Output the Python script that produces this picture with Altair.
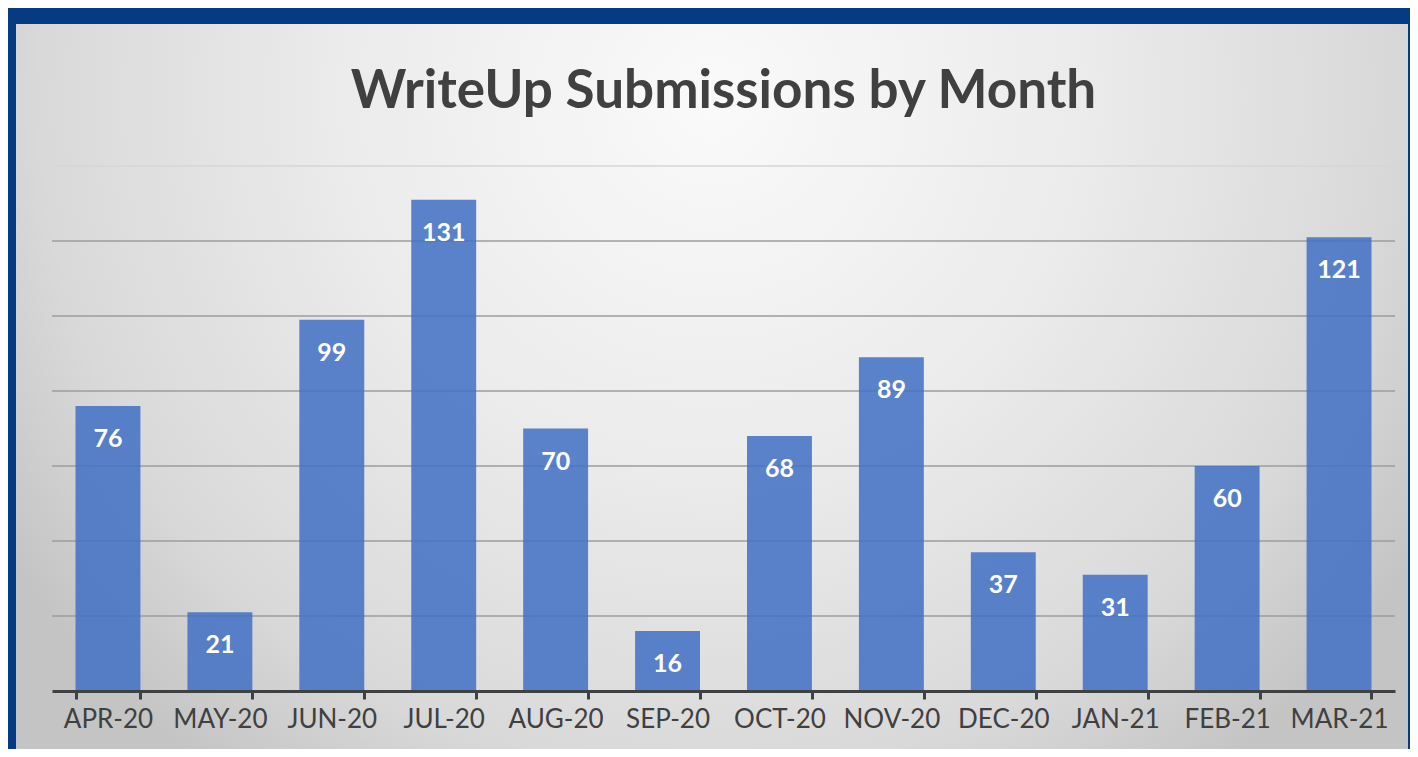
import altair as alt
import pandas as pd

months = ["APR-20", "MAY-20", "JUN-20", "JUL-20", "AUG-20", "SEP-20",
          "OCT-20", "NOV-20", "DEC-20", "JAN-21", "FEB-21", "MAR-21"]
submissions = [76, 21, 99, 131, 70, 16, 68, 89, 37, 31, 60, 121]
grid_values = [20, 40, 60, 80, 100, 120, 140]

df = pd.DataFrame({"month": months, "count": submissions})
grid_df = pd.DataFrame({"v": grid_values})
panel_df = pd.DataFrame({"p": [0]})

W, H = 1343, 525
yscale = alt.Scale(domain=[0, 140], nice=False, zero=True)
xscale = alt.Scale(paddingInner=0.42, paddingOuter=0.21)

panel_fill = {
    "gradient": "radial",
    "x1": 0.5, "y1": 0.05, "r1": 0,
    "x2": 0.5, "y2": 0.05, "r2": 0.56,
    "stops": [
        {"offset": 0, "color": "#fafafa"},
        {"offset": 0.45, "color": "#ebebeb"},
        {"offset": 0.8, "color": "#d9d9d9"},
        {"offset": 1, "color": "#c4c4c4"},
    ],
}

panel = alt.Chart(panel_df).mark_rect(fill=panel_fill).encode(
    x=alt.value(-36), x2=alt.value(W + 13),
    y=alt.value(-142), y2=alt.value(-142 + 1500),
)

grid = alt.Chart(grid_df).mark_rule(strokeWidth=1.5).encode(
    y=alt.Y("v:Q", scale=yscale, axis=None),
    x=alt.value(0), x2=alt.value(W),
    color=alt.condition(alt.datum.v == 140, alt.value("#d6d6d6"), alt.value("#9c9c9c")),
)

bars = alt.Chart(df).mark_bar(color="#4472C4", opacity=0.87).encode(
    x=alt.X("month:N", sort=months, scale=xscale,
            axis=alt.Axis(title=None, labelAngle=0, tickBand="extent",
                          domainColor="#404040", domainWidth=3,
                          tickColor="#404040", tickWidth=3, tickSize=8,
                          labelFont="Lato", labelFontSize=26, labelColor="#404040",
                          labelPadding=7, zindex=1, grid=False)),
    y=alt.Y("count:Q", scale=yscale, axis=None),
)

labels = alt.Chart(df).mark_text(
    dy=33, color="white", font="Lato", fontWeight="bold", fontSize=25, baseline="middle"
).encode(
    x=alt.X("month:N", sort=months),
    y=alt.Y("count:Q", scale=yscale),
    text="count:Q",
)

chart = alt.layer(panel, grid, bars, labels).properties(
    width=W, height=H,
    title=alt.Title("WriteUp Submissions by Month", font="Lato", fontSize=53,
                    fontWeight="bold", color="#404040", anchor="middle",
                    baseline="alphabetic", offset=-137, zindex=1),
    background="#063A82",
    padding={"left": 44, "top": 158, "right": 15, "bottom": 58},
    autosize=alt.AutoSizeParams(type="none"),
).configure_view(stroke=None)

chart.save("out.html", embed_options={"renderer": "svg", "actions": False})
